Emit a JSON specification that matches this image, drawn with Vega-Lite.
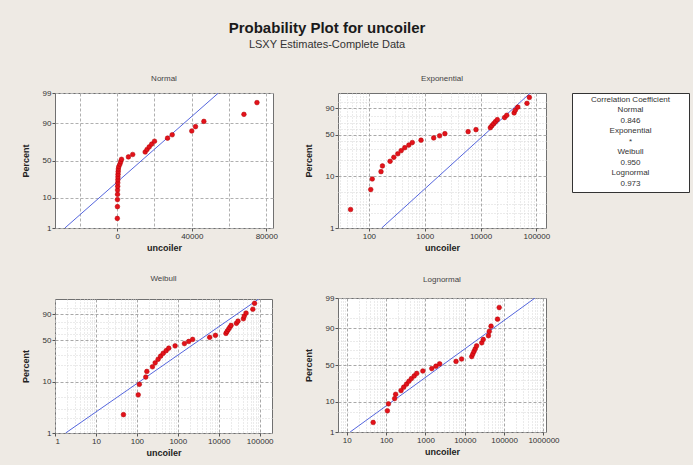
{
  "$schema": "https://vega.github.io/schema/vega-lite/v6.json",
  "background": "#eeeae4",
  "padding": {"left": 20, "top": 21, "right": 3, "bottom": 7},
  "title": {
    "text": "Probability Plot for uncoiler",
    "subtitle": "LSXY Estimates-Complete Data",
    "font": "Liberation Sans",
    "fontSize": 15,
    "fontWeight": "bold",
    "color": "#1a1a1a",
    "subtitleFont": "Liberation Sans",
    "subtitleFontSize": 11,
    "subtitleColor": "#333333",
    "subtitlePadding": 3,
    "anchor": "middle",
    "dx": -28,
    "offset": 24
  },
  "config": {
    "font": "Liberation Sans",
    "view": {"stroke": "#707070", "fill": "#ffffff"},
    "title": {"fontSize": 8, "fontWeight": "normal", "color": "#444444", "offset": 9, "font": "Liberation Sans"},
    "axis": {
      "domain": false,
      "grid": true,
      "labelOverlap": false,
      "labelFontSize": 8,
      "labelColor": "#333333",
      "tickColor": "#555555",
      "tickSize": 3,
      "labelPadding": 1,
      "titleFontSize": 9,
      "titleFontWeight": "bold",
      "titleColor": "#222222",
      "gridColor": "#b0b0b0",
      "gridDash": [3, 2],
      "gridWidth": 1
    },
    "axisX": {"titlePadding": 3},
    "axisY": {"titlePadding": 12}
  },
  "datasets": {
    "pts": [
      {"x": 47, "p": 2.30},
      {"x": 108, "p": 5.59},
      {"x": 115, "p": 8.88},
      {"x": 165, "p": 12.17},
      {"x": 175, "p": 15.46},
      {"x": 240, "p": 18.75},
      {"x": 280, "p": 22.04},
      {"x": 330, "p": 25.33},
      {"x": 380, "p": 28.62},
      {"x": 440, "p": 31.91},
      {"x": 520, "p": 35.20},
      {"x": 600, "p": 38.49},
      {"x": 860, "p": 41.78},
      {"x": 1450, "p": 45.07},
      {"x": 1850, "p": 48.36},
      {"x": 2300, "p": 51.64},
      {"x": 6000, "p": 54.93},
      {"x": 8300, "p": 58.22},
      {"x": 15000, "p": 61.51},
      {"x": 16000, "p": 64.80},
      {"x": 17200, "p": 68.09},
      {"x": 18500, "p": 71.38},
      {"x": 20000, "p": 74.67},
      {"x": 27000, "p": 77.96},
      {"x": 29500, "p": 81.25},
      {"x": 40000, "p": 84.54},
      {"x": 42000, "p": 87.83},
      {"x": 46500, "p": 91.12},
      {"x": 68000, "p": 94.41},
      {"x": 75000, "p": 97.70}
    ],
    "fit": [
      {"dist": "Normal", "x": -28100, "p": 1},
      {"dist": "Normal", "x": 54300, "p": 99},
      {"dist": "Exponential", "x": 170, "p": 1},
      {"dist": "Exponential", "x": 77900, "p": 99},
      {"dist": "Weibull", "x": 1.82, "p": 1},
      {"dist": "Weibull", "x": 94600, "p": 99},
      {"dist": "Lognormal", "x": 12.2, "p": 1},
      {"dist": "Lognormal", "x": 610000, "p": 99}
    ]
  },
  "spacing": 25,
  "hconcat": [
    {
      "spacing": 21,
      "vconcat": [
        {
          "title": {"text": "Normal", "offset": 6},
          "width": 218,
          "height": 135,
          "layer": [
            {
              "data": {"name": "fit"},
              "transform": [
                {"filter": "datum.dist === 'Normal'"},
                {"calculate": "quantileNormal(datum.p/100)", "as": "y"}
              ],
              "mark": {"type": "line", "color": "#5566dd", "strokeWidth": 1, "clip": true},
              "encoding": {
                "x": {
                  "field": "x", "type": "quantitative", "title": "uncoiler",
                  "scale": {"domain": [-33400, 83600], "nice": false, "zero": false},
                  "axis": {
                    "tickCount": 100,
                    "values": [-20000, 0, 20000, 40000, 60000, 80000],
                    "labelExpr": "datum.value % 40000 === 0 ? format(datum.value, 'd') : ''",
                    "tickOpacity": {"condition": {"test": "datum.value % 40000 === 0", "value": 1}, "value": 0}
                  }
                },
                "y": {
                  "field": "y", "type": "quantitative", "title": "Percent",
                  "scale": {"domain": [-2.3263, 2.3263], "nice": false, "zero": false},
                  "axis": {
                    "tickCount": 100,
                    "values": [-2.3263, -1.2816, 0, 1.2816, 2.3263],
                    "labelExpr": "format(round(cumulativeNormal(datum.value)*100), 'd')"
                  }
                }
              }
            },
            {
              "data": {"name": "pts"},
              "transform": [{"calculate": "quantileNormal(datum.p/100)", "as": "y"}],
              "mark": {"type": "circle", "size": 22, "color": "#e3121b", "opacity": 1, "stroke": "#b00000", "strokeWidth": 0.5},
              "encoding": {
                "x": {"field": "x", "type": "quantitative"},
                "y": {"field": "y", "type": "quantitative"}
              }
            }
          ]
        },
        {
          "title": {"text": "Weibull", "offset": 16},
          "width": 217,
          "height": 134,
          "layer": [
            {
              "data": {"name": "fit"},
              "transform": [
                {"filter": "datum.dist === 'Weibull'"},
                {"calculate": "log(-log(1-datum.p/100))", "as": "y"}
              ],
              "mark": {"type": "line", "color": "#5566dd", "strokeWidth": 1, "clip": true},
              "encoding": {
                "x": {
                  "field": "x", "type": "quantitative", "title": "uncoiler",
                  "scale": {"type": "log", "domain": [1, 200000], "nice": false},
                  "axis": {
                    "tickCount": 100,
                    "values": [1,2,3,4,5,6,7,8,9,10,20,30,40,50,60,70,80,90,100,200,300,400,500,600,700,800,900,1000,2000,3000,4000,5000,6000,7000,8000,9000,10000,20000,30000,40000,50000,60000,70000,80000,90000,100000],
                    "labelExpr": "abs(log(datum.value)/LN10 - round(log(datum.value)/LN10)) < 0.001 ? format(datum.value, 'd') : ''",
                    "tickOpacity": {"condition": {"test": "abs(log(datum.value)/LN10 - round(log(datum.value)/LN10)) < 0.001", "value": 1}, "value": 0},
                    "gridColor": {"condition": {"test": "abs(log(datum.value)/LN10 - round(log(datum.value)/LN10)) < 0.001", "value": "#a8a8a8"}, "value": "#d6d6d6"},
                    "gridDash": {"condition": {"test": "abs(log(datum.value)/LN10 - round(log(datum.value)/LN10)) < 0.001", "value": [3, 2]}, "value": [1, 2]}
                  }
                },
                "y": {
                  "field": "y", "type": "quantitative", "title": "Percent",
                  "scale": {"domain": [-4.6002, 1.5272], "nice": false, "zero": false},
                  "axis": {
                    "tickCount": 100,
                    "values": [-4.6002, -3.9019, -3.4913, -2.9702, -2.2504, -1.4999, -1.0309, -0.6717, -0.3665, -0.0874, 0.1856, 0.4759, 0.834, 1.0972],
                    "labelExpr": "indexof([1,10,50,90], round((1-exp(-exp(datum.value)))*100)) >= 0 ? format(round((1-exp(-exp(datum.value)))*100), 'd') : ''",
                    "tickOpacity": {"condition": {"test": "indexof([1,10,50,90], round((1-exp(-exp(datum.value)))*100)) >= 0", "value": 1}, "value": 0},
                    "gridColor": {"condition": {"test": "indexof([1,10,50,90], round((1-exp(-exp(datum.value)))*100)) >= 0", "value": "#a8a8a8"}, "value": "#d6d6d6"},
                    "gridDash": {"condition": {"test": "indexof([1,10,50,90], round((1-exp(-exp(datum.value)))*100)) >= 0", "value": [3, 2]}, "value": [1, 2]}
                  }
                }
              }
            },
            {
              "data": {"name": "pts"},
              "transform": [{"calculate": "log(-log(1-datum.p/100))", "as": "y"}],
              "mark": {"type": "circle", "size": 22, "color": "#e3121b", "opacity": 1, "stroke": "#b00000", "strokeWidth": 0.5},
              "encoding": {
                "x": {"field": "x", "type": "quantitative"},
                "y": {"field": "y", "type": "quantitative"}
              }
            }
          ]
        }
      ]
    },
    {
      "spacing": 11,
      "hconcat": [
        {
          "spacing": 22,
          "vconcat": [
            {
              "title": {"text": "Exponential", "offset": 10.5},
              "width": 208,
              "height": 135,
              "layer": [
                {
                  "data": {"name": "fit"},
                  "transform": [
                    {"filter": "datum.dist === 'Exponential'"},
                    {"calculate": "log(-log(1-datum.p/100))", "as": "y"}
                  ],
                  "mark": {"type": "line", "color": "#5566dd", "strokeWidth": 1, "clip": true},
                  "encoding": {
                    "x": {
                      "field": "x", "type": "quantitative", "title": "uncoiler",
                      "scale": {"type": "log", "domain": [28, 149000], "nice": false},
                      "axis": {
                        "tickCount": 100,
                        "values": [30,40,50,60,70,80,90,100,200,300,400,500,600,700,800,900,1000,2000,3000,4000,5000,6000,7000,8000,9000,10000,20000,30000,40000,50000,60000,70000,80000,90000,100000],
                        "labelExpr": "abs(log(datum.value)/LN10 - round(log(datum.value)/LN10)) < 0.001 ? format(datum.value, 'd') : ''",
                        "tickOpacity": {"condition": {"test": "abs(log(datum.value)/LN10 - round(log(datum.value)/LN10)) < 0.001", "value": 1}, "value": 0},
                        "gridColor": {"condition": {"test": "abs(log(datum.value)/LN10 - round(log(datum.value)/LN10)) < 0.001", "value": "#a8a8a8"}, "value": "#d6d6d6"},
                        "gridDash": {"condition": {"test": "abs(log(datum.value)/LN10 - round(log(datum.value)/LN10)) < 0.001", "value": [3, 2]}, "value": [1, 2]}
                      }
                    },
                    "y": {
                      "field": "y", "type": "quantitative", "title": "Percent",
                      "scale": {"domain": [-4.6002, 1.5272], "nice": false, "zero": false},
                      "axis": {
                        "tickCount": 100,
                        "values": [-4.6002, -3.9019, -3.4913, -2.9702, -2.2504, -1.4999, -1.0309, -0.6717, -0.3665, -0.0874, 0.1856, 0.4759, 0.834, 1.0972],
                        "labelExpr": "indexof([1,10,50,90], round((1-exp(-exp(datum.value)))*100)) >= 0 ? format(round((1-exp(-exp(datum.value)))*100), 'd') : ''",
                        "tickOpacity": {"condition": {"test": "indexof([1,10,50,90], round((1-exp(-exp(datum.value)))*100)) >= 0", "value": 1}, "value": 0},
                        "gridColor": {"condition": {"test": "indexof([1,10,50,90], round((1-exp(-exp(datum.value)))*100)) >= 0", "value": "#a8a8a8"}, "value": "#d6d6d6"},
                        "gridDash": {"condition": {"test": "indexof([1,10,50,90], round((1-exp(-exp(datum.value)))*100)) >= 0", "value": [3, 2]}, "value": [1, 2]}
                      }
                    }
                  }
                },
                {
                  "data": {"name": "pts"},
                  "transform": [{"calculate": "log(-log(1-datum.p/100))", "as": "y"}],
                  "mark": {"type": "circle", "size": 22, "color": "#e3121b", "opacity": 1, "stroke": "#b00000", "strokeWidth": 0.5},
                  "encoding": {
                    "x": {"field": "x", "type": "quantitative"},
                    "y": {"field": "y", "type": "quantitative"}
                  }
                }
              ]
            },
            {
              "title": {"text": "Lognormal", "offset": 10.5},
              "width": 208,
              "height": 134,
              "layer": [
                {
                  "data": {"name": "fit"},
                  "transform": [
                    {"filter": "datum.dist === 'Lognormal'"},
                    {"calculate": "quantileNormal(datum.p/100)", "as": "y"}
                  ],
                  "mark": {"type": "line", "color": "#5566dd", "strokeWidth": 1, "clip": true},
                  "encoding": {
                    "x": {
                      "field": "x", "type": "quantitative", "title": "uncoiler",
                      "scale": {"type": "log", "domain": [6, 1160000], "nice": false},
                      "axis": {
                        "tickCount": 100,
                        "values": [7,8,9,10,20,30,40,50,60,70,80,90,100,200,300,400,500,600,700,800,900,1000,2000,3000,4000,5000,6000,7000,8000,9000,10000,20000,30000,40000,50000,60000,70000,80000,90000,100000,200000,300000,400000,500000,600000,700000,800000,900000,1000000],
                        "labelExpr": "abs(log(datum.value)/LN10 - round(log(datum.value)/LN10)) < 0.001 ? format(datum.value, 'd') : ''",
                        "tickOpacity": {"condition": {"test": "abs(log(datum.value)/LN10 - round(log(datum.value)/LN10)) < 0.001", "value": 1}, "value": 0},
                        "gridColor": {"condition": {"test": "abs(log(datum.value)/LN10 - round(log(datum.value)/LN10)) < 0.001", "value": "#a8a8a8"}, "value": "#d6d6d6"},
                        "gridDash": {"condition": {"test": "abs(log(datum.value)/LN10 - round(log(datum.value)/LN10)) < 0.001", "value": [3, 2]}, "value": [1, 2]}
                      }
                    },
                    "y": {
                      "field": "y", "type": "quantitative", "title": "Percent",
                      "scale": {"domain": [-2.3263, 2.3263], "nice": false, "zero": false},
                      "axis": {
                        "tickCount": 100,
                        "values": [-2.3263, -1.6449, -1.2816, -0.8416, -0.5244, -0.2533, 0, 0.2533, 0.5244, 0.8416, 1.2816, 1.6449, 2.3263],
                        "labelExpr": "indexof([1,10,50,90,99], round(cumulativeNormal(datum.value)*100)) >= 0 ? format(round(cumulativeNormal(datum.value)*100), 'd') : ''",
                        "tickOpacity": {"condition": {"test": "indexof([1,10,50,90,99], round(cumulativeNormal(datum.value)*100)) >= 0", "value": 1}, "value": 0},
                        "gridColor": {"condition": {"test": "indexof([1,10,50,90,99], round(cumulativeNormal(datum.value)*100)) >= 0", "value": "#a8a8a8"}, "value": "#d6d6d6"},
                        "gridDash": {"condition": {"test": "indexof([1,10,50,90,99], round(cumulativeNormal(datum.value)*100)) >= 0", "value": [3, 2]}, "value": [1, 2]}
                      }
                    }
                  }
                },
                {
                  "data": {"name": "pts"},
                  "transform": [{"calculate": "quantileNormal(datum.p/100)", "as": "y"}],
                  "mark": {"type": "circle", "size": 22, "color": "#e3121b", "opacity": 1, "stroke": "#b00000", "strokeWidth": 0.5},
                  "encoding": {
                    "x": {"field": "x", "type": "quantitative"},
                    "y": {"field": "y", "type": "quantitative"}
                  }
                }
              ]
            }
          ]
        },
        {
          "width": 117,
          "height": 99,
          "view": {"stroke": "#333333", "fill": "#ffffff"},
          "data": {"values": [
            {"t": "Correlation Coefficient"},
            {"t": "Normal"},
            {"t": "0.846"},
            {"t": "Exponential"},
            {"t": "*"},
            {"t": "Weibull"},
            {"t": "0.950"},
            {"t": "Lognormal"},
            {"t": "0.973"}
          ]},
          "mark": {"type": "text", "fontSize": 8, "color": "#333333"},
          "encoding": {
            "y": {"field": "t", "type": "nominal", "sort": null, "axis": null, "scale": {"type": "point", "padding": 0.7, "align": 0.45}},
            "text": {"field": "t"}
          }
        }
      ]
    }
  ]
}
